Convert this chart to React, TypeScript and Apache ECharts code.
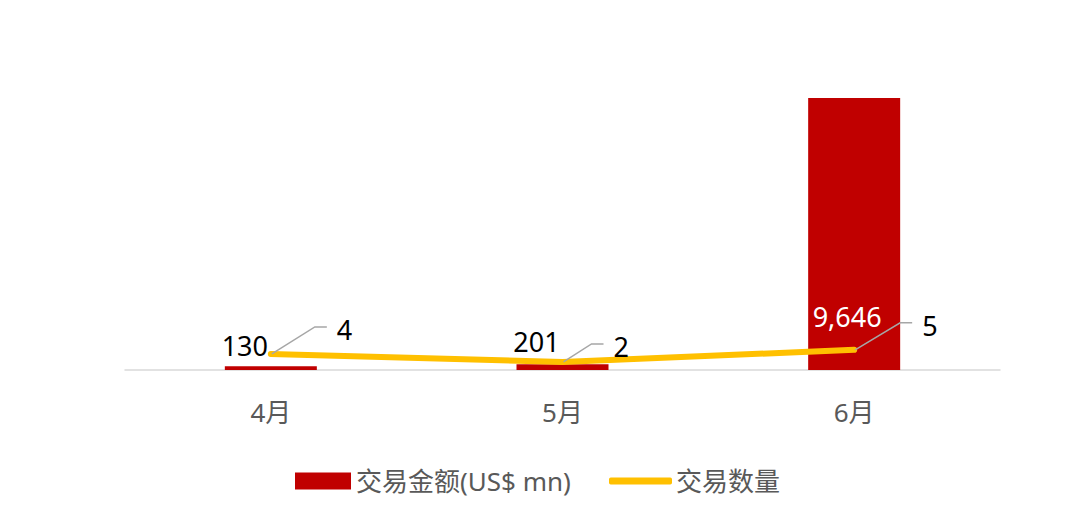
import React, { useEffect, useRef } from "react";
import * as echarts from "echarts";

const categories = ["4月", "5月", "6月"];
const amountValues = [130, 201, 9646];
const countValues = [4, 2, 5];
const amountName = "交易金额(US$ mn)";
const countName = "交易数量";

// label placement (layout only)
const barLabelOffsets = [[-26, -3], [-26, -5], [-7, 0]];
const lineLabelOffsets = [[44, -27], [29, -18], [46, -27]];

const FONT = "'Noto Sans', 'Noto Sans CJK SC', sans-serif";

export default function App() {
  const ref = useRef<HTMLDivElement>(null);
  useEffect(() => {
    if (!ref.current) return;
    const chart = echarts.init(ref.current, undefined, { renderer: "svg" });
    const option: any = {
      animation: false,
      backgroundColor: "#ffffff",
      textStyle: { fontFamily: FONT },
      grid: { left: 125, right: 80, top: 88, bottom: 158 },
      legend: [
        {
          data: [{ name: amountName, icon: "rect" }],
          left: 295,
          top: 468,
          padding: 0,
          itemWidth: 56,
          itemHeight: 17,
          itemGap: 8,
          textStyle: { fontSize: 26, color: "#595959", fontFamily: FONT },
        },
        {
          data: [{ name: countName, icon: "roundRect" }],
          left: 609,
          top: 468,
          padding: 0,
          itemWidth: 63,
          itemHeight: 7,
          textStyle: { fontSize: 26, color: "#595959", fontFamily: FONT, padding: [0, 0, 0, -1] },
        },
      ],
      xAxis: {
        type: "category",
        data: categories,
        axisLine: { lineStyle: { color: "#D9D9D9", width: 1.5 } },
        axisTick: { show: false },
        axisLabel: { fontSize: 26, color: "#595959", margin: 29, fontFamily: FONT },
      },
      yAxis: [
        { type: "value", min: 0, max: 10000, show: false, splitLine: { show: false } },
        { type: "value", min: 0, max: 70, show: false, splitLine: { show: false } },
      ],
      series: [
        {
          name: amountName,
          type: "bar",
          barWidth: 92,
          itemStyle: { color: "#C00000" },
          z: 1,
          data: amountValues.map((v, i) => ({
            value: v,
            label:
              i === 2
                ? {
                    show: true,
                    position: "insideBottom",
                    distance: 40,
                    offset: barLabelOffsets[i],
                    color: "#ffffff",
                  }
                : { show: true, position: "top", distance: 4, offset: barLabelOffsets[i], color: "#000000" },
          })),
          label: {
            fontSize: 27,
            fontFamily: FONT,
            formatter: (p: any) => Number(p.value).toLocaleString("en-US"),
          },
        },
        {
          name: countName,
          type: "line",
          yAxisIndex: 1,
          data: countValues,
          symbol: "none",
          showSymbol: false,
          lineStyle: { color: "#FFC000", width: 6, cap: "round", join: "round" },
          itemStyle: { color: "#FFC000" },
          z: 3,
        },
        {
          name: "countLabels",
          type: "custom",
          yAxisIndex: 1,
          z: 4,
          silent: true,
          data: countValues.map((v, i) => [i, v]),
          encode: { x: 0, y: 1 },
          renderItem: (params: any, api: any) => {
            const idx = api.value(0);
            const pt = api.coord([idx, api.value(1)]);
            const off = lineLabelOffsets[params.dataIndex];
            const ex = pt[0] + off[0];
            const ey = pt[1] + off[1];
            return {
              type: "group",
              children: [
                {
                  type: "polyline",
                  shape: { points: [[pt[0] + 1, pt[1]], [ex, ey], [ex + 12, ey]] },
                  style: { stroke: "#A6A6A6", lineWidth: 1.5, fill: null },
                },
                {
                  type: "text",
                  x: ex + 22,
                  y: ey + 3,
                  style: {
                    text: String(countValues[params.dataIndex]),
                    fontSize: 27,
                    fontFamily: FONT,
                    fill: "#000000",
                    verticalAlign: "middle",
                    align: "left",
                  },
                },
              ],
            };
          },
        },
      ],
    };
    chart.setOption(option);
    return () => chart.dispose();
  }, []);
  return (
    <div
      ref={ref}
      style={{ position: "fixed", left: 0, top: 0, width: 1080, height: 528, background: "#fff" }}
    />
  );
}
